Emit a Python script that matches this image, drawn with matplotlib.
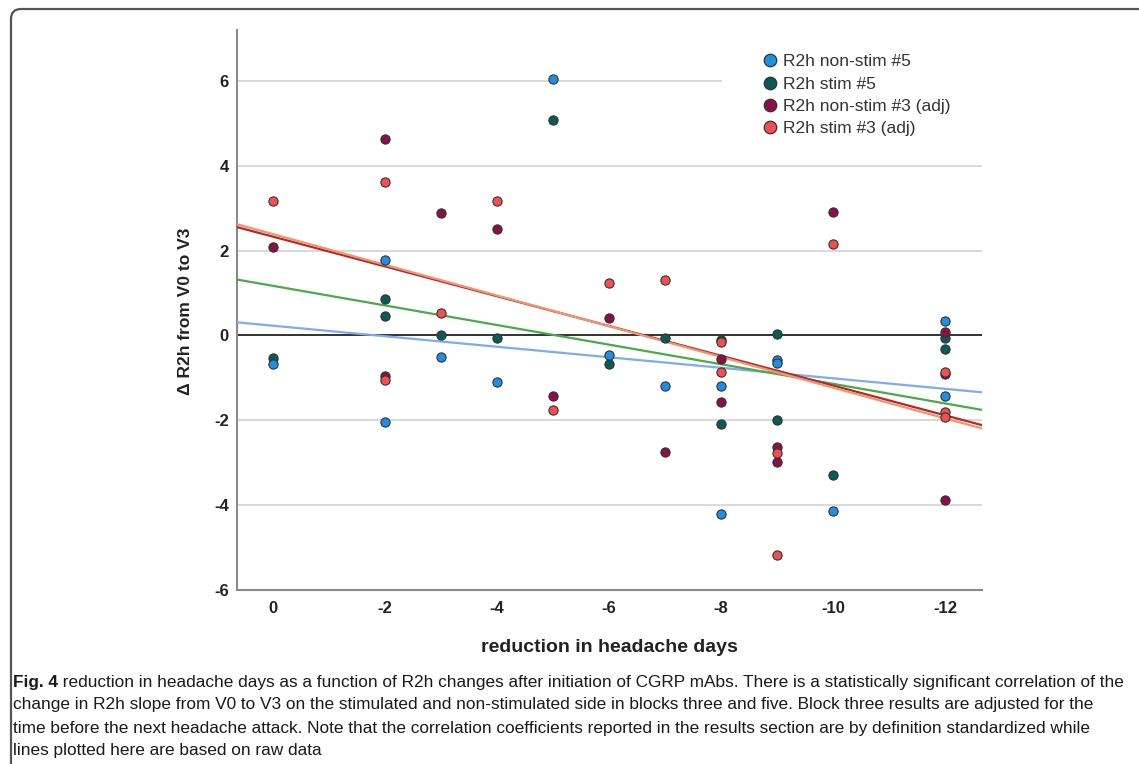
import matplotlib
matplotlib.use('Agg')
import matplotlib.pyplot as plt
import numpy as np
from matplotlib.lines import Line2D
from matplotlib.patches import FancyBboxPatch, Rectangle
from matplotlib.transforms import IdentityTransform

plt.rcParams['font.family'] = ['Liberation Sans', 'DejaVu Sans']

# data (x = reduction in headache days)
series_labels = ['R2h non-stim #5', 'R2h stim #5', 'R2h non-stim #3 (adj)', 'R2h stim #3 (adj)']

nonstim5_x = [0, -2, -2, -3, -4, -5, -6, -7, -8, -8, -9, -9, -10, -12, -12]
nonstim5_y = [-0.67, 1.79, -2.05, -0.50, -1.10, 6.04, -0.45, -1.20, -1.20, -4.20,
              -0.57, -0.65, -4.13, 0.35, -1.42]

stim5_x = [0, -2, -2, -3, -4, -5, -6, -7, -8, -8, -9, -9, -10, -12, -12]
stim5_y = [-0.52, 0.87, 0.47, 0.02, -0.06, 5.09, -0.68, -0.06, -0.10, -2.08,
           0.03, -1.99, -3.28, -0.07, -0.31]

nonstim3_x = [0, -2, -2, -3, -4, -5, -6, -7, -8, -8, -9, -9, -10, -12, -12, -12]
nonstim3_y = [2.08, 4.62, -0.96, 2.88, 2.50, -1.42, 0.40, -2.75, -0.55, -1.57,
              -2.62, -2.99, 2.90, 0.09, -0.92, -3.87]

stim3_x = [0, -2, -2, -3, -4, -5, -6, -7, -8, -8, -9, -9, -10, -12, -12, -12]
stim3_y = [3.16, 3.61, -1.06, 0.52, 3.16, -1.75, 1.23, 1.30, -0.15, -0.85,
           -2.78, -5.17, 2.15, -0.87, -1.80, -1.93]

# fitted lines as drawn (y = a + b*x)
fit_intercept = [0.23, 1.17, 2.33, 2.39]
fit_slope = [0.124, 0.231, 0.351, 0.362]

x_ticks = [0, -2, -4, -6, -8, -10, -12]
y_ticks = [-6, -4, -2, 0, 2, 4, 6]

caption_lines = [
    'reduction in headache days as a function of R2h changes after initiation of CGRP mAbs. '
    'There is a statistically significant correlation of the',
    'change in R2h slope from V0 to V3 on the stimulated and non-stimulated side in blocks three '
    'and five. Block three results are adjusted for the',
    'time before the next headache attack. Note that the correlation coefficients reported in the '
    'results section are by definition standardized while',
    'lines plotted here are based on raw data',
]

point_colors = ['#1e8fe3', '#0a5a55', '#8a1046', '#f44f50']
line_colors = ['#7eaaf0', '#4caa48', '#b3282a', '#f29470']

W, H = 1139, 764
fig = plt.figure(figsize=(W / 100, H / 100), dpi=100)
ax = fig.add_axes([237 / W, 1 - 590 / H, (982 - 237) / W, (590 - 30) / H])

xlim = (0.64, -12.66)
ax.set_xlim(*xlim)
ax.set_ylim(-6, 7.2)

for yv in y_ticks:
    if yv in (0, -6):
        continue
    ax.axhline(yv, color='#d2d2d2', lw=1.2, zorder=1)
ax.axhline(0, color='#222222', lw=1.3, zorder=2)

# white box behind legend (hides grid there)
ax.add_patch(Rectangle((0.651, 0.80), 0.36, 0.19, transform=ax.transAxes,
                       facecolor='white', edgecolor='none', zorder=1.5))

xx = np.array(xlim)
for a, b, c in zip(fit_intercept, fit_slope, line_colors):
    ax.plot(xx, a + b * xx, color=c, lw=1.6, zorder=3)

all_x = [nonstim5_x, stim5_x, nonstim3_x, stim3_x]
all_y = [nonstim5_y, stim5_y, nonstim3_y, stim3_y]
for i in [1, 0, 2, 3]:
    ax.scatter(all_x[i], all_y[i], s=44, color=point_colors[i], edgecolor='#333333',
               linewidth=0.8, zorder=4)

ax.set_xticks(x_ticks)
ax.set_xticklabels([str(v) for v in x_ticks])
ax.set_yticks(y_ticks)
ax.set_yticklabels([str(v) for v in y_ticks])
ax.tick_params(axis='both', length=0, labelsize=12, labelcolor='#222222')
ax.tick_params(axis='x', pad=8)
ax.tick_params(axis='y', pad=6)
for lab in ax.get_xticklabels() + ax.get_yticklabels():
    lab.set_fontweight('bold')

for s in ['top', 'right']:
    ax.spines[s].set_visible(False)
for s in ['left', 'bottom']:
    ax.spines[s].set_color('#8a8a8a')
    ax.spines[s].set_linewidth(1.5)

handles = [Line2D([], [], linestyle='none', marker='o', markersize=9,
                  markerfacecolor=c, markeredgecolor='#333333', markeredgewidth=0.9)
           for c in point_colors]
fig.legend(handles, series_labels, loc='upper left', bbox_to_anchor=(764.8 / W, 1 - 54 / H),
           frameon=False, fontsize=12.5, handlelength=0.6, handletextpad=0.45,
           labelspacing=0.42, borderpad=0, borderaxespad=0, labelcolor='#333333')

fig.text(185 / W, 1 - 311 / H, '\u0394 R2h from V0 to V3', rotation=90, ha='center',
         va='center', fontsize=12.5, fontweight='bold', color='#222222')
fig.text(609.5 / W, 1 - 647 / H, 'reduction in headache days', ha='center', va='center',
         fontsize=14, fontweight='bold', color='#222222')

# caption
cap_font = ['Liberation Sans Narrow', 'Liberation Sans', 'DejaVu Sans']
cap_y = [682, 705, 728, 751]
cap_texts = []
bold = fig.text(13 / W, 1 - cap_y[0] / H, 'Fig. 4', fontweight='bold', fontsize=12,
                va='center', ha='left', family=cap_font, color='#1a1a1a')
first = fig.text(0, 0, ' ' + caption_lines[0], fontsize=12, family=cap_font,
                 color='#1a1a1a', ha='left', va='center')
cap_texts += [bold, first]
for yv, line in zip(cap_y[1:], caption_lines[1:]):
    cap_texts.append(fig.text(13 / W, 1 - yv / H, line, fontsize=12, family=cap_font,
                              color='#1a1a1a', ha='left', va='center'))

fig.canvas.draw()
r = fig.canvas.get_renderer()
for _ in range(3):
    bb = bold.get_window_extent(r)
    first.set_position((bb.x1 / W, 1 - cap_y[0] / H))
    fb = first.get_window_extent(r)
    scale = (1128 - 13) / (fb.x1 - bb.x0)
    for t in cap_texts:
        t.set_fontsize(t.get_fontsize() * scale)
    fig.canvas.draw()
bb = bold.get_window_extent(r)
first.set_position((bb.x1 / W, 1 - cap_y[0] / H))

# rounded frame around the figure
fig.patches.append(FancyBboxPatch((11, -30), 1300, H - 9 + 30,
                                  boxstyle='round,pad=0,rounding_size=10',
                                  transform=IdentityTransform(), fill=False,
                                  edgecolor='#555555', linewidth=1.6))

fig.savefig('out.png', dpi=100)
